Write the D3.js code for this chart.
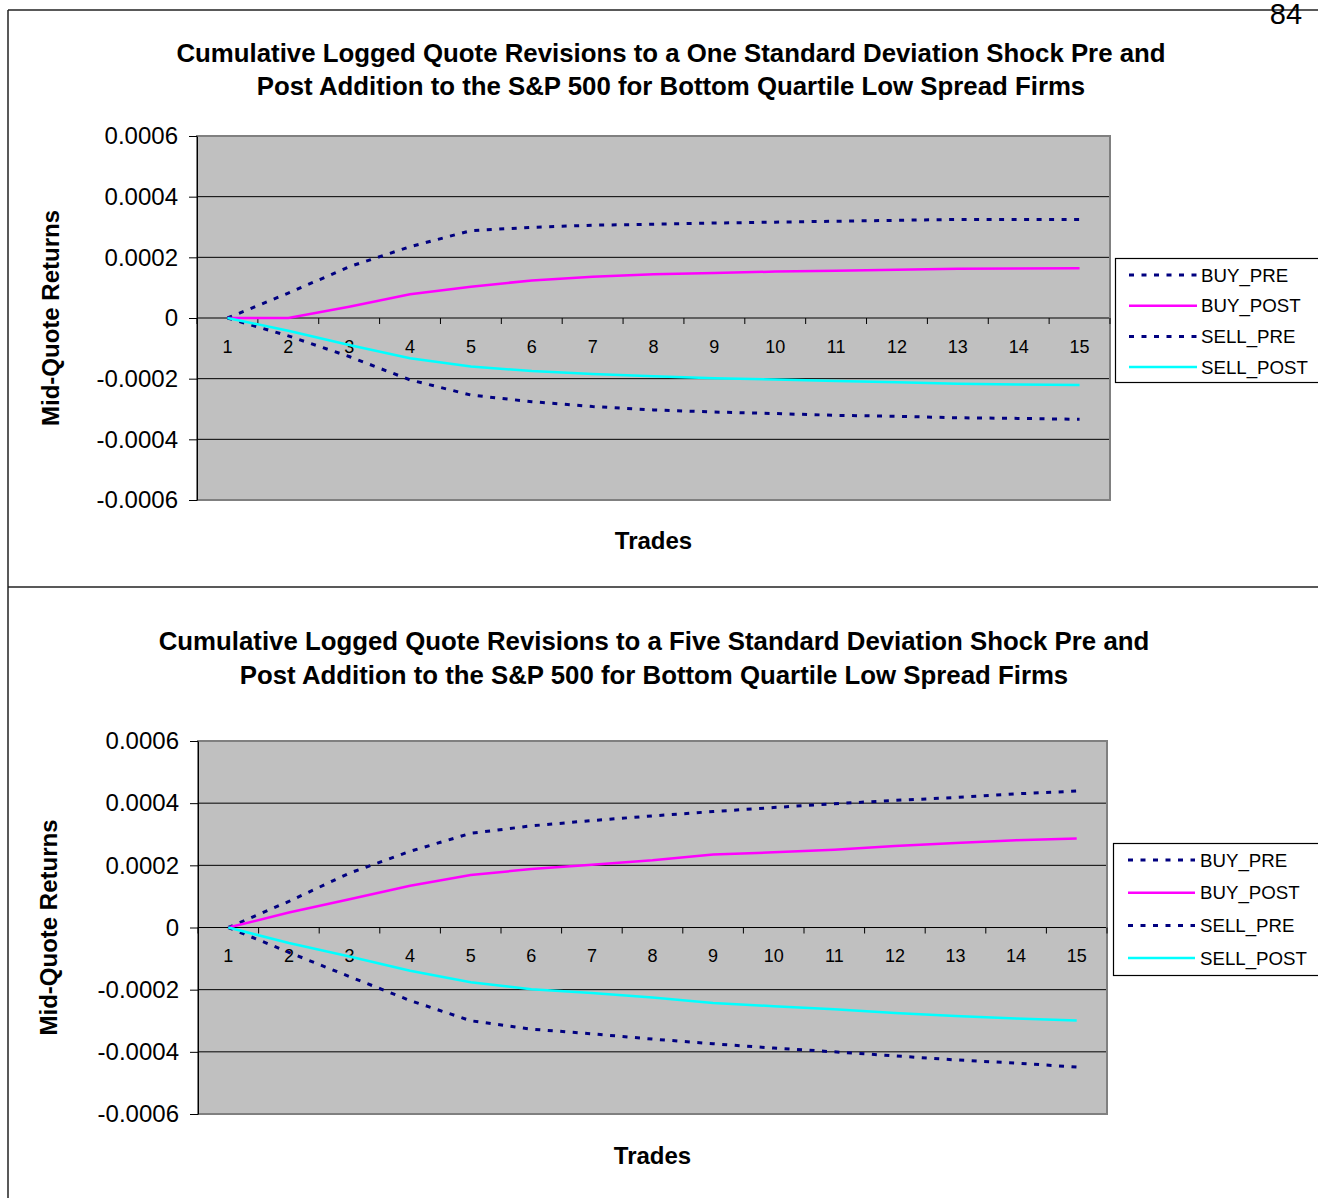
<!DOCTYPE html>
<html>
<head>
<meta charset="utf-8">
<script src="https://cdn.jsdelivr.net/npm/d3@7"></script>
<style>
    body { margin: 0; background: #fff; }
    svg { display: block; font-family: "Liberation Sans", Arial, sans-serif; }
</style>
</head>
<body>
<div id="page"></div>
<script>
// Categories on the X axis (trade number after the shock).
const trades = ["1", "2", "3", "4", "5", "6", "7", "8", "9", "10", "11", "12", "13", "14", "15"];
const seriesNames = ["BUY_PRE", "BUY_POST", "SELL_PRE", "SELL_POST"];
const yTickValues = [-0.0006, -0.0004, -0.0002, 0, 0.0002, 0.0004, 0.0006];

// One standard deviation shock.
const oneBuyPre   = [0, 0.000082, 0.000169, 0.000235, 0.000288, 0.000299, 0.000306, 0.000309, 0.000313, 0.000316, 0.000319, 0.000322, 0.000325, 0.000325, 0.000325];
const oneBuyPost  = [0, 0, 0.000037, 0.000078, 0.000103, 0.000124, 0.000136, 0.000144, 0.000148, 0.000153, 0.000156, 0.000159, 0.000162, 0.000163, 0.000164];
const oneSellPre  = [0, -0.000059, -0.000127, -0.000204, -0.000254, -0.000276, -0.000292, -0.000303, -0.000310, -0.000315, -0.000321, -0.000324, -0.000329, -0.000331, -0.000334];
const oneSellPost = [0, -0.000042, -0.000089, -0.000133, -0.000160, -0.000175, -0.000185, -0.000192, -0.000199, -0.000203, -0.000208, -0.000212, -0.000217, -0.000219, -0.000221];

// Five standard deviation shock.
const fiveBuyPre   = [0, 0.000084, 0.000175, 0.000245, 0.000303, 0.000327, 0.000344, 0.000359, 0.000373, 0.000386, 0.000398, 0.000409, 0.000418, 0.000430, 0.000439];
const fiveBuyPost  = [0, 0.000048, 0.000091, 0.000134, 0.000169, 0.000188, 0.000202, 0.000216, 0.000235, 0.000242, 0.000250, 0.000262, 0.000272, 0.000281, 0.000286];
const fiveSellPre  = [0, -0.000080, -0.000158, -0.000235, -0.000300, -0.000327, -0.000342, -0.000359, -0.000374, -0.000388, -0.000400, -0.000413, -0.000426, -0.000436, -0.000449];
const fiveSellPost = [0, -0.000050, -0.000093, -0.000139, -0.000176, -0.000199, -0.000211, -0.000225, -0.000243, -0.000253, -0.000263, -0.000275, -0.000285, -0.000293, -0.000299];

const oneTitle  = ["Cumulative Logged Quote Revisions to a One Standard Deviation Shock Pre and",
                   "Post Addition to the S&P 500 for Bottom Quartile Low Spread Firms"];
const fiveTitle = ["Cumulative Logged Quote Revisions to a Five Standard Deviation Shock Pre and",
                   "Post Addition to the S&P 500 for Bottom Quartile Low Spread Firms"];

// Line styles per series (Excel default look).
const seriesStyle = {
    BUY_PRE:   { stroke: "#000080", width: 3,   dash: "5,7.5" },
    BUY_POST:  { stroke: "#ff00ff", width: 2.5, dash: null },
    SELL_PRE:  { stroke: "#000080", width: 3,   dash: "5,7.5" },
    SELL_POST: { stroke: "#00ffff", width: 2.5, dash: null }
};


let ShockPanel = class {
    constructor(svg, opt) {
        this.opt = opt;
        this.g = svg.append("g");

        this.x = d3.scaleBand()
            .domain(trades)
            .range([opt.left, opt.right]);

        this.y = d3.scaleLinear()
            .domain(d3.extent(yTickValues))
            .range([opt.bottom, opt.top]);
    }

    draw() {
        this.draw_titles();
        this.draw_plot_area();
        this.draw_axes();
        this.draw_series();
        this.draw_legend();
    }

    /* -------------------------------------------------------------------------
     * Titles
     * ---------------------------------------------------------------------- */

    draw_titles() {
        var o = this.opt;

        this.g.selectAll("text.title")
            .data(o.title)
            .join("text")
                .attr("class", "title")
                .attr("x", o.titleX)
                .attr("y", (d, i) => o.titleY + i * o.titleGap)
                .attr("text-anchor", "middle")
                .style("font-size", "25.8px")
                .style("font-weight", "bold")
                .text(d => d);

        this.g.append("text")
            .attr("x", (o.left + o.right) / 2)
            .attr("y", o.xTitleY)
            .attr("text-anchor", "middle")
            .style("font-size", "24px")
            .style("font-weight", "bold")
            .text("Trades");

        this.g.append("text")
            .attr("transform", "translate(" + o.yTitleX + "," + ((o.top + o.bottom) / 2) + ") rotate(-90)")
            .attr("text-anchor", "middle")
            .style("font-size", "24px")
            .style("font-weight", "bold")
            .text("Mid-Quote Returns");
    }

    /* -------------------------------------------------------------------------
     * Plot area, gridlines and axes
     * ---------------------------------------------------------------------- */

    draw_plot_area() {
        var o = this.opt;

        this.g.append("rect")
            .attr("x", o.left).attr("y", o.top)
            .attr("width", o.right - o.left).attr("height", o.bottom - o.top)
            .style("fill", "#c0c0c0");

        this.g.append("g")
            .selectAll("line")
            .data(yTickValues)
            .join("line")
                .attr("x1", o.left).attr("x2", o.right)
                .attr("y1", d => this.y(d)).attr("y2", d => this.y(d))
                .style("stroke", "#000")
                .style("stroke-width", 1);

        this.g.append("rect")
            .attr("x", o.left).attr("y", o.top)
            .attr("width", o.right - o.left).attr("height", o.bottom - o.top)
            .style("fill", "none")
            .style("stroke", "#808080")
            .style("stroke-width", 2);
    }

    draw_axes() {
        var o = this.opt;
        var y0 = this.y(0);

        // Y axis.
        var y_axis = this.g.append("g")
            .attr("transform", "translate(" + o.left + ",0)")
            .call(d3.axisLeft(this.y)
                .tickValues(yTickValues)
                .tickSize(8)
                .tickSizeOuter(0)
                .tickPadding(11)
                .tickFormat(d => d === 0 ? "0" : d.toFixed(4)));

        y_axis.selectAll("path, line").style("stroke", "#000");
        y_axis.selectAll("text")
            .style("font-size", "24px")
            .style("fill", "#000")
            .style("font-family", "'Liberation Sans', Arial, sans-serif");

        // X axis labels sit under the zero line, at the category centres.
        var x_axis = this.g.append("g")
            .attr("transform", "translate(0," + y0 + ")")
            .call(d3.axisBottom(this.x).tickSize(0).tickPadding(22));

        x_axis.select(".domain").remove();
        x_axis.selectAll("text")
            .style("font-size", "18px")
            .style("fill", "#000")
            .style("font-family", "'Liberation Sans', Arial, sans-serif");

        // Tick marks go between categories, like Excel does.
        var edges = trades.map(d => this.x(d)).concat([o.right]);

        this.g.append("g")
            .selectAll("line")
            .data(edges)
            .join("line")
                .attr("x1", d => d).attr("x2", d => d)
                .attr("y1", y0).attr("y2", y0 + 6)
                .style("stroke", "#000")
                .style("stroke-width", 1);
    }

    /* -------------------------------------------------------------------------
     * Series and legend
     * ---------------------------------------------------------------------- */

    draw_series() {
        var half = this.x.bandwidth() / 2;
        var line = d3.line()
            .x((d, i) => this.x(trades[i]) + half)
            .y(d => this.y(d));

        this.g.append("g")
            .selectAll("path")
            .data(seriesNames.map((name, i) => ({ name: name, values: this.opt.series[i] })))
            .join("path")
                .attr("d", d => line(d.values))
                .style("fill", "none")
                .style("stroke", d => seriesStyle[d.name].stroke)
                .style("stroke-width", d => seriesStyle[d.name].width)
                .style("stroke-dasharray", d => seriesStyle[d.name].dash);
    }

    draw_legend() {
        var l = this.opt.legend;

        var legend = this.g.append("g");

        legend.append("rect")
            .attr("x", l.x).attr("y", l.y)
            .attr("width", l.w).attr("height", l.h)
            .style("fill", "#fff")
            .style("stroke", "#000")
            .style("stroke-width", 1.2);

        var rows = legend.selectAll("g.row")
            .data(seriesNames)
            .join("g")
                .attr("class", "row")
                .attr("transform", (d, i) => "translate(0," + (l.row0 + i * l.rowGap) + ")");

        rows.append("line")
            .attr("x1", l.lineX1).attr("x2", l.lineX2)
            .style("stroke", d => seriesStyle[d].stroke)
            .style("stroke-width", d => seriesStyle[d].width)
            .style("stroke-dasharray", d => seriesStyle[d].dash);

        rows.append("text")
            .attr("x", l.textX)
            .attr("dy", "0.36em")
            .style("font-size", "18.7px")
            .text(d => d);
    }
}


var svg = d3.select("#page").append("svg")
    .attr("width", 1318)
    .attr("height", 1198)
    .attr("viewBox", "0 0 1318 1198");

// Page frame around the two charts.
var frame = svg.append("g")
    .style("stroke", "#222")
    .style("stroke-width", 1.5);

frame.append("line").attr("x1", 8).attr("y1", 10).attr("x2", 1318).attr("y2", 10);
frame.append("line").attr("x1", 8).attr("y1", 10).attr("x2", 8).attr("y2", 1198);
frame.append("line").attr("x1", 8).attr("y1", 587).attr("x2", 1318).attr("y2", 587);

// Page number of the source document.
svg.append("text")
    .attr("x", 1286).attr("y", 24)
    .attr("text-anchor", "middle")
    .style("font-size", "29px")
    .text("84");

new ShockPanel(svg, {
    left: 197, right: 1110, top: 136, bottom: 500,
    title: oneTitle, titleX: 671, titleY: 62, titleGap: 33,
    xTitleY: 549, yTitleX: 59,
    series: [oneBuyPre, oneBuyPost, oneSellPre, oneSellPost],
    legend: { x: 1115.5, y: 258.5, w: 220, h: 124, row0: 275, rowGap: 30.7,
              lineX1: 1129, lineX2: 1197, textX: 1201 }
}).draw();

new ShockPanel(svg, {
    left: 198, right: 1107, top: 741, bottom: 1114,
    title: fiveTitle, titleX: 654, titleY: 650, titleGap: 34,
    xTitleY: 1164, yTitleX: 57,
    series: [fiveBuyPre, fiveBuyPost, fiveSellPre, fiveSellPost],
    legend: { x: 1113.5, y: 843.5, w: 220, h: 132, row0: 860, rowGap: 32.7,
              lineX1: 1128, lineX2: 1195, textX: 1200 }
}).draw();
</script>
</body>
</html>
